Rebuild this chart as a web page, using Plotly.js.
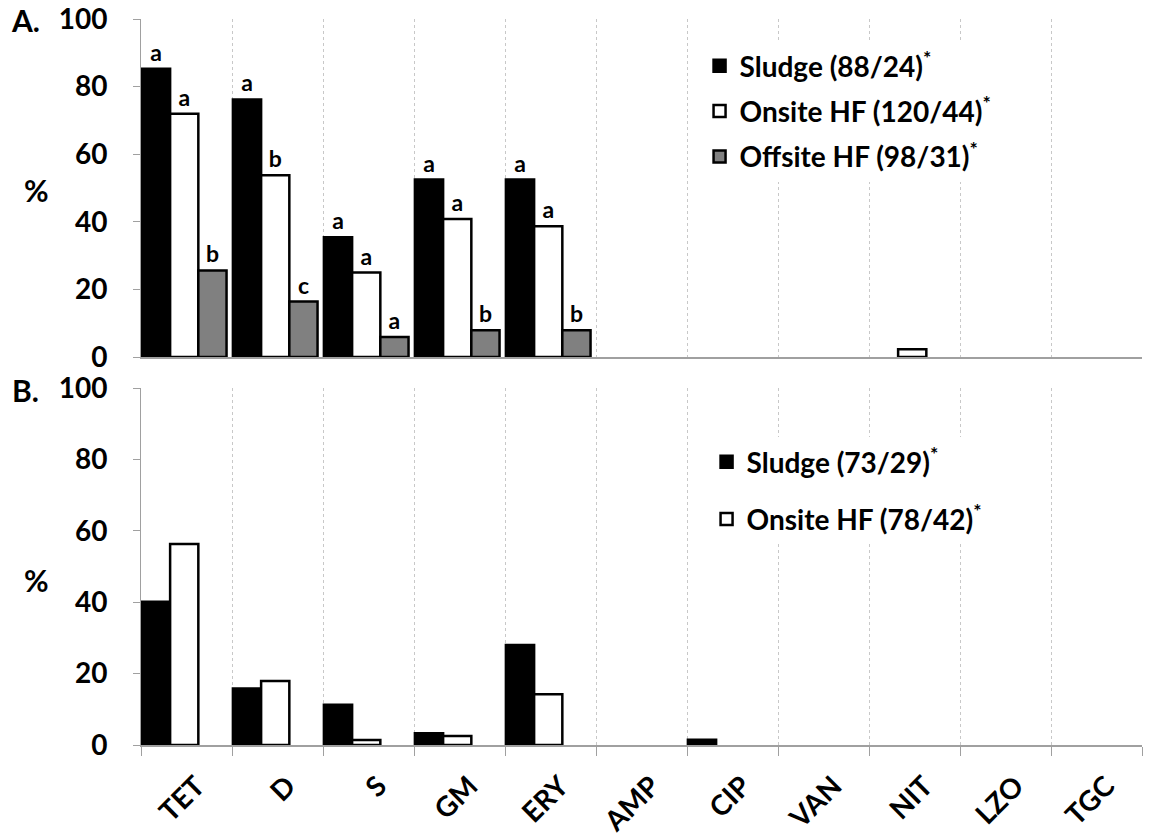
<!DOCTYPE html>
<html>
<head>
<meta charset="utf-8">
<script src="https://cdn.plot.ly/plotly-3.0.1.min.js"></script>
<style>html,body{margin:0;padding:0;background:#fff;}#chart{width:1149px;height:840px;}</style>
</head>
<body>
<div id="chart"></div>
<script>
// ---- data ----
const categories = ['TET','D','S','GM','ERY','AMP','CIP','VAN','NIT','LZO','TGC'];

// Panel A (null = no bar drawn)
const aSludge  = [85.3, 76.2, 35.4, 52.5, 52.5, null, null, null, null, null, null];
const aOnsite  = [72.0, 53.8, 25.0, 40.8, 38.7, null, null, null, 2.3, null, null];
const aOffsite = [25.6, 16.4, 5.9, 7.9, 7.9, null, null, null, null, null, null];
// significance letters (first five categories only)
const aSludgeLetters  = ['a','a','a','a','a'];
const aOnsiteLetters  = ['a','b','a','a','a'];
const aOffsiteLetters = ['b','c','a','b','b'];

// Panel B
const bSludge = [40.1, 15.8, 11.3, 3.3, 28.0, null, 1.5, null, null, null, null];
const bOnsite = [56.3, 17.9, 1.4, 2.5, 14.2, null, null, null, null, null, null];

const seriesNamesA = ['Sludge (88/24)<sup>*</sup>', 'Onsite HF (120/44)<sup>*</sup>', 'Offsite HF (98/31)<sup>*</sup>'];
const seriesNamesB = ['Sludge (73/29)<sup>*</sup>', 'Onsite HF (78/42)<sup>*</sup>'];
const yTicks = [0, 20, 40, 60, 80, 100];

// ---- styles ----
const FONT = 'Lato, "Open Sans", "DejaVu Sans", sans-serif';
const fills = ['#000000', '#ffffff', '#808080'];
const BW = 0.31;
const offsets = [-0.49, -0.18, 0.13];
const lineStyle = {color: '#000000', width: 2.5};
const letterFont = {family: FONT, size: 23, color: '#000', weight: 'bold'};

function barTrace(y, i, name, axis, legend, group, letters) {
  const t = {
    type: 'bar', x: categories, y: y, name: name,
    xaxis: axis[0], yaxis: axis[1], legend: legend, legendgroup: group,
    width: BW, offset: offsets[i],
    marker: {color: fills[i], line: lineStyle},
    cliponaxis: false, hoverinfo: 'x+y'
  };
  if (letters) {
    t.text = letters;
    t.textposition = 'outside';
    t.textfont = letterFont;
    t.outsidetextfont = letterFont;
    t.constraintext = 'none';
  }
  return t;
}

const data = [
  barTrace(aSludge, 0, seriesNamesA[0], ['x','y'], 'legend', 'a1', aSludgeLetters),
  barTrace(aOnsite, 1, seriesNamesA[1], ['x','y'], 'legend', 'a2', aOnsiteLetters),
  barTrace(aOffsite, 2, seriesNamesA[2], ['x','y'], 'legend', 'a3', aOffsiteLetters),
  barTrace(bSludge, 0, seriesNamesB[0], ['x2','y2'], 'legend2', 'b1', null),
  barTrace(bOnsite, 1, seriesNamesB[1], ['x2','y2'], 'legend2', 'b2', null)
];

const gridColor = '#c8c8c8';
const axisColor = '#a0a0a0';
const tickFont = {family: FONT, size: 28, color: '#000', weight: 'bold'};

function xAxis(anchor, labels) {
  return {
    domain: [0, 1], anchor: anchor, type: 'category',
    categoryorder: 'array', categoryarray: categories,
    range: [-0.5, 10.5], tickson: 'boundaries',
    showgrid: true, gridcolor: gridColor, griddash: 'dot', gridwidth: 1,
    showline: true, linecolor: axisColor, linewidth: 1.5,
    ticks: labels ? 'outside' : '', ticklen: 9, tickcolor: axisColor, tickwidth: 1,
    showticklabels: labels, tickangle: -45,
    ticklabelstandoff: 12, ticklabelshift: 10,
    tickfont: {family: FONT, size: 28, color: '#000', weight: 'bold'},
    zeroline: false, fixedrange: true
  };
}
function yAxis(anchor, domain) {
  return {
    domain: domain, anchor: anchor, range: [0, 100],
    tickmode: 'array', tickvals: yTicks, ticktext: yTicks.map(String),
    ticks: 'outside', ticklen: 7, tickcolor: axisColor, tickwidth: 1,
    ticklabelstandoff: 20,
    showline: true, linecolor: axisColor, linewidth: 1,
    showgrid: false, zeroline: false, tickfont: tickFont, fixedrange: true
  };
}

const labelFont = {family: FONT, size: 30, color: '#000', weight: 'bold'};
const layout = {
  width: 1149, height: 840,
  margin: {l: 141, r: 7, t: 15, b: 95},
  paper_bgcolor: '#ffffff', plot_bgcolor: '#ffffff',
  barmode: 'group',
  font: {family: FONT, color: '#000'},
  xaxis: xAxis('y', false),
  yaxis: yAxis('x', [0.5315, 0.9945]),
  xaxis2: xAxis('y2', true),
  yaxis2: yAxis('x2', [0, 0.489]),
  showlegend: true,
  legend: {
    x: 0.558, y: 0.9644, xanchor: 'left', yanchor: 'top',
    bgcolor: '#ffffff', borderwidth: 0,
    font: {family: FONT, size: 28, color: '#000', weight: 'bold'},
    traceorder: 'grouped', tracegroupgap: 6
  },
  legend2: {
    x: 0.565, y: 0.422, xanchor: 'left', yanchor: 'top',
    bgcolor: '#ffffff', borderwidth: 0,
    font: {family: FONT, size: 28, color: '#000', weight: 'bold'},
    traceorder: 'grouped', tracegroupgap: 18
  },
  annotations: [
    {text: 'A.', xref: 'paper', yref: 'paper', x: -0.115, y: 0.993, showarrow: false, font: labelFont, xanchor: 'center', yanchor: 'middle'},
    {text: 'B.', xref: 'paper', yref: 'paper', x: -0.115, y: 0.486, showarrow: false, font: labelFont, xanchor: 'center', yanchor: 'middle'},
    {text: '%', xref: 'paper', yref: 'paper', x: -0.104, y: 0.760, showarrow: false, font: labelFont, xanchor: 'center', yanchor: 'middle'},
    {text: '%', xref: 'paper', yref: 'paper', x: -0.104, y: 0.226, showarrow: false, font: labelFont, xanchor: 'center', yanchor: 'middle'}
  ]
};

Plotly.newPlot('chart', data, layout, {displayModeBar: false, staticPlot: true});
</script>
</body>
</html>
